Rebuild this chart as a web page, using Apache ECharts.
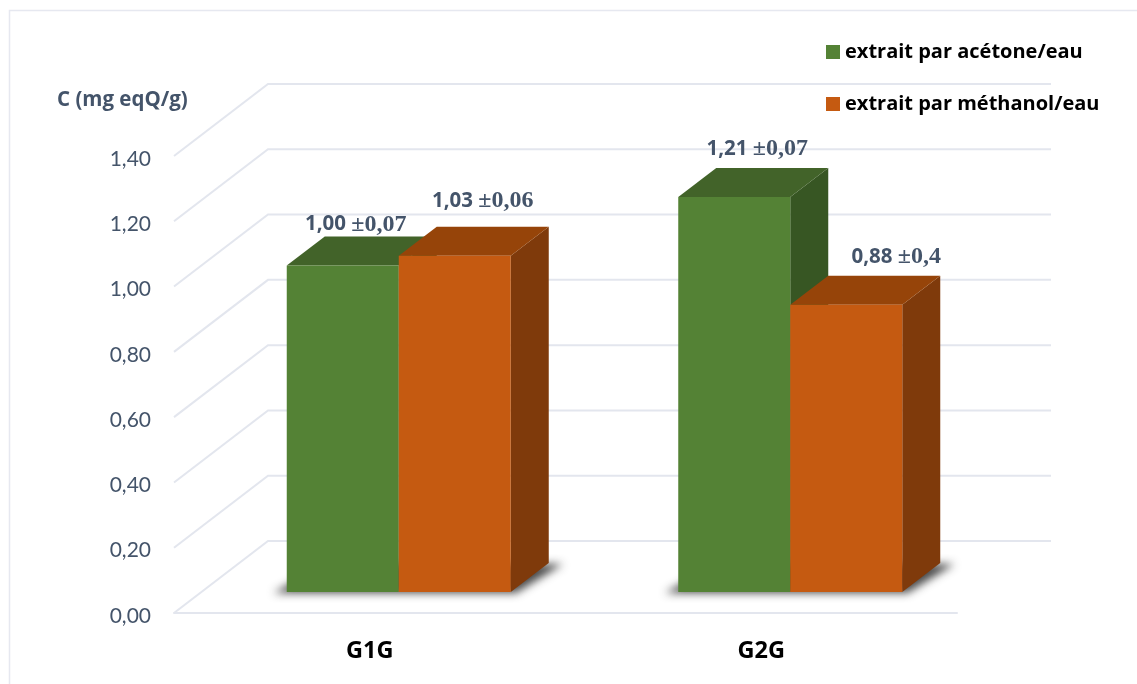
<!DOCTYPE html>
<html>
<head>
<meta charset="utf-8">
<style>html,body{margin:0;padding:0;background:#fff}#chart{width:1137px;height:684px}</style>
<script src="https://cdn.jsdelivr.net/npm/echarts@6/dist/echarts.min.js"></script>
</head>
<body>
<div id="chart"></div>
<script>
const categories = ['G1G', 'G2G'];
const seriesNames = ['extrait par acétone/eau', 'extrait par méthanol/eau'];
const acetoneValues = [1.00, 1.21];
const methanolValues = [1.03, 0.88];
const acetoneLabels = ['1,00 ±0,07', '1,21 ±0,07'];
const methanolLabels = ['1,03 ±0,06', '0,88 ±0,4'];
const yTicks = [0, 0.2, 0.4, 0.6, 0.8, 1.0, 1.2, 1.4];

// Oblique projection of the 3D box
const FLOOR_DX = 94, FLOOR_DY = -72;    // front edge of the floor to the back wall
const BAR_DX = 29, BAR_DY = -21;        // floor front edge to the bars' front faces
const DEPTH_DX = 38, DEPTH_DY = -29;    // depth of a bar
const BAR_W = 112;

const SLATE = '#44546a';
const WALL = '#e3e6ee';
const GREEN = { front: '#548235', top: '#426329', side: '#375623' };
const ORANGE = { front: '#c55a11', top: '#964409', side: '#7f3a0b' };
const SANS = '"Open Sans"';

function poly(points, fill, extra) {
  return Object.assign({ type: 'polygon', silent: true, shape: { points }, style: Object.assign({ fill }, extra || {}) });
}

// Gridlines: one diagonal along the side wall and one line along the back wall per tick
function renderWall(params, api) {
  const cs = params.coordSys;
  const p = api.coord([0, api.value(1)]);
  const x0 = cs.x, y0 = p[1];
  return {
    type: 'polyline', silent: true,
    shape: { points: [[x0, y0], [x0 + FLOOR_DX, y0 + FLOOR_DY], [x0 + cs.width + FLOOR_DX, y0 + FLOOR_DY]] },
    style: { fill: null, stroke: WALL, lineWidth: 2 }
  };
}

// Soft floor shadow of one pair of bars: the caster sits off canvas so only its blur shows
function renderShadow(params, api) {
  const cx = api.coord([api.value(0), 0])[0] + BAR_DX;
  const by = api.coord([0, 0])[1] + BAR_DY;
  const l = cx - BAR_W, r = cx + BAR_W;
  const away = 3000;
  const pts = [[l - 13, by + 1], [r + 5, by + 1], [r + DEPTH_DX + 14, by + DEPTH_DY + 1], [l + DEPTH_DX, by + DEPTH_DY + 1]];
  return poly(pts.map((p) => [p[0] - away, p[1]]), '#000', {
    shadowColor: 'rgba(55,55,55,0.9)', shadowBlur: 9, shadowOffsetX: away, shadowOffsetY: 0
  });
}

// One extruded bar: side and top faces first, then the front face
function barRenderer(side, palette) {
  return function (params, api) {
    const cat = api.value(0);
    const center = api.coord([cat, 0])[0] + BAR_DX;
    const x0 = side < 0 ? center - BAR_W : center;
    const x1 = x0 + BAR_W;
    const yb = api.coord([cat, 0])[1] + BAR_DY;
    const yt = api.coord([cat, api.value(1)])[1] + BAR_DY;
    return {
      type: 'group', silent: true,
      children: [
        poly([[x1, yt], [x1 + DEPTH_DX, yt + DEPTH_DY], [x1 + DEPTH_DX, yb + DEPTH_DY], [x1, yb]], palette.side),
        poly([[x0, yt], [x0 + DEPTH_DX, yt + DEPTH_DY], [x1 + DEPTH_DX, yt + DEPTH_DY], [x1, yt]], palette.top),
        poly([[x0, yt], [x1, yt], [x1, yb], [x0, yb]], palette.front)
      ]
    };
  };
}

// Value captions, nudged off the bar tops as on a hand-arranged slide
const captionNudge = { acetone: [[13, -41], [23, -48]], methanol: [[28, -55], [50, -48]] };

function captionRenderer(side, texts, nudge) {
  return function (params, api) {
    const i = params.dataIndex;
    const cat = api.value(0);
    const center = api.coord([cat, 0])[0] + BAR_DX + side * BAR_W / 2;
    const yt = api.coord([cat, api.value(1)])[1] + BAR_DY;
    const parts = texts[i].split(' ');
    return {
      type: 'text', silent: true,
      x: center + nudge[i][0], y: yt + nudge[i][1],
      style: {
        text: '{a|' + parts[0] + ' }{b|' + parts[1] + '}',
        align: 'center', verticalAlign: 'middle',
        rich: {
          a: { fontFamily: SANS, fontWeight: 'bold', fontSize: 20.5, fill: SLATE },
          b: { fontFamily: 'Liberation Serif', fontWeight: 'bold', fontSize: 24, fill: SLATE }
        }
      }
    };
  };
}

const pairs = (values) => values.map((v, i) => [i, v]);

const option = {
  animation: false,
  backgroundColor: '#ffffff',
  title: {
    text: 'C (mg eqQ/g)', left: 57, top: 90, padding: 0,
    textStyle: { fontFamily: SANS, fontWeight: 'bold', fontSize: 20.5, color: SLATE }
  },
  legend: {
    data: seriesNames,
    orient: 'vertical', left: 826, top: 42, icon: 'rect',
    itemWidth: 14, itemHeight: 14, itemGap: 32, padding: 0, selectedMode: false,
    textStyle: { fontFamily: SANS, fontWeight: 'bold', fontSize: 20, color: '#000000', padding: [0, 0, 0, 0] }
  },
  grid: { left: 174, top: 156, width: 783, height: 457 },
  graphic: [{
    type: 'polyline', silent: true,
    shape: { points: [[9.5, 684], [9.5, 10.5], [1137, 10.5]] },
    style: { fill: null, stroke: '#e6e8f0', lineWidth: 1.5 }
  }],
  xAxis: {
    type: 'category', data: categories,
    axisTick: { show: false },
    axisLine: { lineStyle: { color: WALL, width: 2 } },
    axisLabel: { margin: 26, fontFamily: SANS, fontWeight: 'bold', fontSize: 23.5, color: '#000000' }
  },
  yAxis: {
    type: 'value', min: 0, max: 1.4, interval: 0.2,
    axisLine: { show: false }, axisTick: { show: false }, splitLine: { show: false },
    axisLabel: {
      margin: 23, fontFamily: 'Lato', fontSize: 21, color: SLATE, verticalAlign: 'top', lineHeight: 6,
      formatter: (v) => v.toFixed(2).replace('.', ',')
    }
  },
  series: [
    { name: 'wall', type: 'custom', z: 1, renderItem: renderWall, data: yTicks.map((v) => [0, v]), encode: { x: 0, y: 1 } },
    { name: 'shadow', type: 'custom', z: 2, renderItem: renderShadow, data: categories.map((c, i) => [i, 0]), encode: { x: 0, y: 1 } },
    { name: seriesNames[0], type: 'custom', z: 3, itemStyle: { color: GREEN.front }, renderItem: barRenderer(-1, GREEN), data: pairs(acetoneValues), encode: { x: 0, y: 1 } },
    { name: seriesNames[1], type: 'custom', z: 4, itemStyle: { color: ORANGE.front }, renderItem: barRenderer(1, ORANGE), data: pairs(methanolValues), encode: { x: 0, y: 1 } },
    { name: 'captionsA', type: 'custom', z: 5, renderItem: captionRenderer(-1, acetoneLabels, captionNudge.acetone), data: pairs(acetoneValues), encode: { x: 0, y: 1 } },
    { name: 'captionsM', type: 'custom', z: 5, renderItem: captionRenderer(1, methanolLabels, captionNudge.methanol), data: pairs(methanolValues), encode: { x: 0, y: 1 } }
  ]
};

echarts.init(document.getElementById('chart'), null, { renderer: 'canvas' }).setOption(option);
</script>
</body>
</html>
